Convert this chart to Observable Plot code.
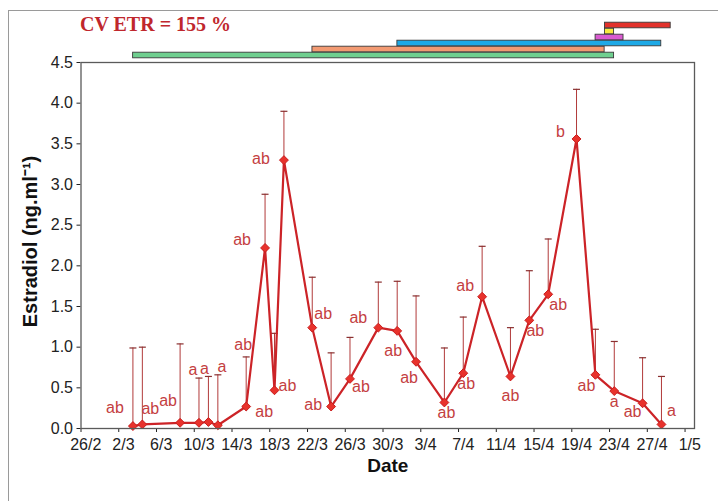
<!DOCTYPE html>
<html><head><meta charset="utf-8">
<script src="https://cdn.jsdelivr.net/npm/d3@7"></script>
<script src="https://cdn.jsdelivr.net/npm/@observablehq/plot@0.6"></script>
<style>
body{margin:0;background:#fff;}
#wrap{position:relative;width:718px;height:501px;overflow:hidden;background:#fff;}
#frame{position:absolute;left:8px;top:10px;width:720px;height:500px;border-left:1.5px solid #9a9a9a;border-top:1.5px solid #9a9a9a;}
#title{position:absolute;left:80px;top:13px;font:bold 20px "Liberation Serif","Times New Roman",serif;color:#c0272d;}
#main,#gantt{position:absolute;left:0;top:0;}
</style></head><body>
<div id="wrap"><div id="frame"></div><div id="main"></div><div id="gantt"></div><div id="title">CV ETR = 155 %</div></div>
<script>
// ---- data ----
const sampleDates = ["2007-03-03","2007-03-04","2007-03-08","2007-03-10","2007-03-11","2007-03-12","2007-03-15","2007-03-17","2007-03-18","2007-03-19","2007-03-22","2007-03-24","2007-03-26","2007-03-29","2007-03-31","2007-04-02","2007-04-05","2007-04-07","2007-04-09","2007-04-12","2007-04-14","2007-04-16","2007-04-19","2007-04-21","2007-04-23","2007-04-26","2007-04-28"];
const estradiol = [0.03,0.05,0.07,0.07,0.08,0.04,0.27,2.22,0.47,3.30,1.24,0.27,0.61,1.24,1.20,0.82,0.32,0.68,1.62,0.64,1.33,1.65,3.56,0.66,0.46,0.31,0.05];
const errorUp  = [0.96,0.95,0.97,0.55,0.56,0.62,0.61,0.66,0.70,0.60,0.62,0.66,0.51,0.56,0.61,0.81,0.67,0.69,0.62,0.60,0.61,0.68,0.61,0.56,0.61,0.56,0.59];
const letters  = ["ab","ab","ab","a","a","a","ab","ab","ab","ab","ab","ab","ab","ab","ab","ab","ab","ab","ab","ab","ab","ab","b","ab","a","ab","a"];
const extraLetterDates = ["2007-03-15"];
const extraLetters = ["ab"];

const tickDates = ["2007-02-26","2007-03-02","2007-03-06","2007-03-10","2007-03-14","2007-03-18","2007-03-22","2007-03-26","2007-03-30","2007-04-03","2007-04-07","2007-04-11","2007-04-15","2007-04-19","2007-04-23","2007-04-27","2007-05-01"];
const yTicks = [0,0.5,1,1.5,2,2.5,3,3.5,4,4.5];

const periodNames = ["P1","P2","P3","P4","P5","P6"];
const periodStart = ["2007-03-03","2007-03-22","2007-03-31","2007-04-21","2007-04-22","2007-04-22"];
const periodEnd   = ["2007-04-23","2007-04-22","2007-04-28","2007-04-24","2007-04-23","2007-04-29"];

// ---- styling / layout (not data) ----
const periodFill = ["#6fcf8f","#f39a72","#1ea9e6","#d95bd0","#f5ea3f","#e2312b"];
const laneOrder = ["P6","P5","P4","P3","P2","P1"];
// label placement: [anchor ("pt" = point, "cap" = error bar top), dx, dy]
const labelNudge = [["pt",-18,-18],["pt",8,-16],["pt",-12,-22],["cap",-6,-8],["cap",-4,-8],["cap",4,-8],["pt",18,5],["pt",-23,-8],["pt",13,-4],["pt",-23,-1],["pt",11,-14],["pt",-18,-2],["pt",11,8],["pt",-20,-10],["pt",-4,20],["pt",-7,16],["pt",2,10],["pt",3,11],["pt",-17,-11],["pt",0,19],["pt",6,11],["pt",10,11],["pt",-16,-7],["pt",-9,11],["pt",0,11],["pt",-10,9],["pt",10,-14]];
const extraNudge = [["cap",-3,-12]];

const parse = d3.utcParse("%Y-%m-%d");
const dates = sampleDates.map(parse);
const mid = d => d3.utcHour.offset(d, 12);
const idx = d3.range(dates.length);
const xDomain = [parse("2007-02-26"), parse("2007-05-02")];
const M = {left: 80.5, right: 24};
const fmt = d3.utcFormat("%-d/%-m");

const capSymbol = {draw(ctx, size){ const r = Math.sqrt(size/Math.PI); ctx.moveTo(-r,0); ctx.lineTo(r,0); }};

const labelMarks = idx.map(i => {
  const [a, dx, dy] = labelNudge[i];
  return Plot.text([i], {x: j => mid(dates[j]), y: j => a === "cap" ? estradiol[j] + errorUp[j] : estradiol[j],
    text: j => letters[j], dx, dy, fill: "#c4403f", fontSize: 16, textAnchor: "middle", lineAnchor: "middle"});
});
const extraMarks = extraLetters.map((L, k) => {
  const i = sampleDates.indexOf(extraLetterDates[k]);
  const [a, dx, dy] = extraNudge[k];
  return Plot.text([i], {x: j => mid(dates[j]), y: j => a === "cap" ? estradiol[j] + errorUp[j] : estradiol[j],
    text: () => L, dx, dy, fill: "#c4403f", fontSize: 16, textAnchor: "middle", lineAnchor: "middle"});
});

const tickD = tickDates.map(parse);
const main = Plot.plot({
  width: 718, height: 501,
  marginTop: 62, marginBottom: 73, marginLeft: M.left, marginRight: M.right,
  style: {fontFamily: "'Liberation Sans', Arial, sans-serif", fontSize: "16px", color: "#222", background: "transparent", overflow: "visible"},
  x: {type: "utc", domain: xDomain, label: null},
  y: {domain: [0, 4.5], label: null},
  marks: [
    Plot.axisX({ticks: tickD, tickSize: 4, tickFormat: () => "", label: null}),
    Plot.axisX({ticks: tickD.map(mid), tickSize: 0, tickPadding: 10, tickFormat: fmt, label: null}),
    Plot.axisY({ticks: yTicks, tickSize: 4, tickPadding: 4, tickFormat: d3.format(".1f"), label: null}),
    Plot.ruleX(idx, {x: i => mid(dates[i]), y1: i => estradiol[i], y2: i => estradiol[i] + errorUp[i], stroke: "#b13a3a", strokeWidth: 1}),
    Plot.dot(idx, {x: i => mid(dates[i]), y: i => estradiol[i] + errorUp[i], symbol: capSymbol, r: 3.5, fill: "none", stroke: "#8a3030", strokeWidth: 1.2}),
    Plot.line(idx, {x: i => mid(dates[i]), y: i => estradiol[i], stroke: "#cc2327", strokeWidth: 2.2}),
    Plot.dot(idx, {x: i => mid(dates[i]), y: i => estradiol[i], symbol: "diamond2", r: 4, fill: "#e8322c", stroke: "#c91d1d", strokeWidth: 1}),
    ...labelMarks, ...extraMarks,
    Plot.frame({stroke: "#5a5a5a", strokeWidth: 1.3}),
    Plot.text([0], {frameAnchor: "bottom", dy: 37, text: () => "Date", fontWeight: "bold", fontSize: 19, fill: "#111", lineAnchor: "middle"}),
    Plot.text([0], {frameAnchor: "left", dx: -50, dy: -4, rotate: -90, text: () => "Estradiol (ng.ml⁻¹)", fontWeight: "bold", fontSize: 20, fill: "#111", textAnchor: "middle", lineAnchor: "middle"})
  ]
});
document.getElementById("main").append(main);

const pIdx = d3.range(periodNames.length);
const gantt = Plot.plot({
  width: 718, height: 62, marginTop: 20, marginBottom: 2, marginLeft: M.left, marginRight: M.right,
  style: {background: "transparent", overflow: "visible"},
  x: {type: "utc", domain: xDomain, axis: null},
  y: {domain: laneOrder, axis: null, padding: 0},
  marks: [
    Plot.barX(pIdx, {x1: i => mid(parse(periodStart[i])), x2: i => mid(parse(periodEnd[i])), y: i => periodNames[i],
      fill: i => periodFill[i], stroke: "#3a3a3a", strokeWidth: 0.9, inset: 0.2})
  ]
});
document.getElementById("gantt").append(gantt);
</script>
</body></html>
